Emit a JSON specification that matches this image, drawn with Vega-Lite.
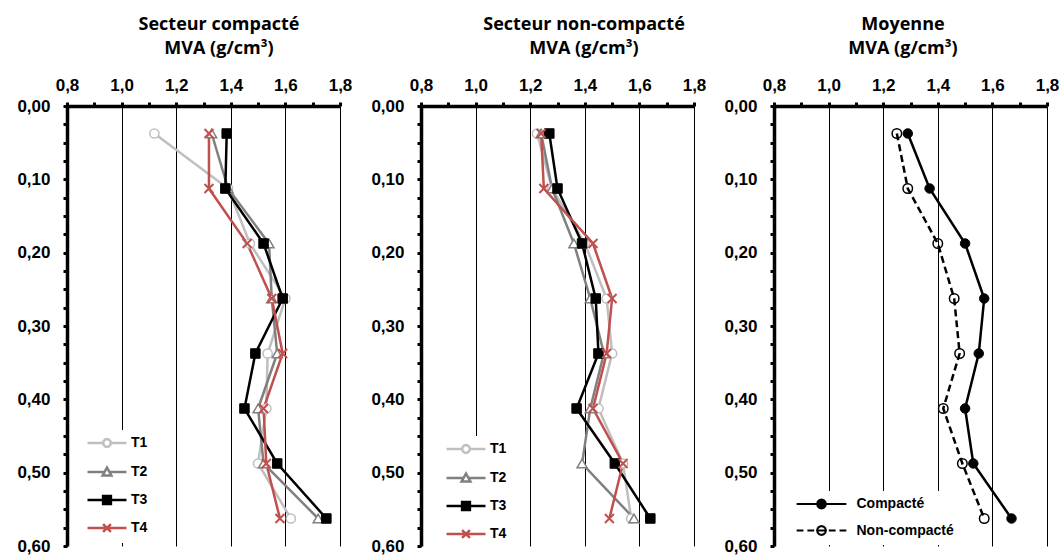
{
  "$schema": "https://vega.github.io/schema/vega-lite/v6.json",
  "padding": {"left": 16, "top": 15, "right": 5, "bottom": 5},
  "background": "white",
  "width": 980,
  "height": 440,
  "datasets": {
    "compact": [
      {"depth": 0.0375, "series": "T1", "mva": 1.12}, {"depth": 0.0375, "series": "T2", "mva": 1.33}, {"depth": 0.0375, "series": "T3", "mva": 1.385}, {"depth": 0.0375, "series": "T4", "mva": 1.32},
      {"depth": 0.1125, "series": "T1", "mva": 1.39}, {"depth": 0.1125, "series": "T2", "mva": 1.39}, {"depth": 0.1125, "series": "T3", "mva": 1.38}, {"depth": 0.1125, "series": "T4", "mva": 1.32},
      {"depth": 0.1875, "series": "T1", "mva": 1.47}, {"depth": 0.1875, "series": "T2", "mva": 1.54}, {"depth": 0.1875, "series": "T3", "mva": 1.52}, {"depth": 0.1875, "series": "T4", "mva": 1.46},
      {"depth": 0.2625, "series": "T1", "mva": 1.60}, {"depth": 0.2625, "series": "T2", "mva": 1.55}, {"depth": 0.2625, "series": "T3", "mva": 1.59}, {"depth": 0.2625, "series": "T4", "mva": 1.55},
      {"depth": 0.3375, "series": "T1", "mva": 1.535}, {"depth": 0.3375, "series": "T2", "mva": 1.57}, {"depth": 0.3375, "series": "T3", "mva": 1.49}, {"depth": 0.3375, "series": "T4", "mva": 1.59},
      {"depth": 0.4125, "series": "T1", "mva": 1.53}, {"depth": 0.4125, "series": "T2", "mva": 1.50}, {"depth": 0.4125, "series": "T3", "mva": 1.45}, {"depth": 0.4125, "series": "T4", "mva": 1.52},
      {"depth": 0.4875, "series": "T1", "mva": 1.50}, {"depth": 0.4875, "series": "T2", "mva": 1.52}, {"depth": 0.4875, "series": "T3", "mva": 1.57}, {"depth": 0.4875, "series": "T4", "mva": 1.53},
      {"depth": 0.5625, "series": "T1", "mva": 1.62}, {"depth": 0.5625, "series": "T2", "mva": 1.72}, {"depth": 0.5625, "series": "T3", "mva": 1.75}, {"depth": 0.5625, "series": "T4", "mva": 1.58}
    ],
    "noncompact": [
      {"depth": 0.0375, "series": "T1", "mva": 1.225}, {"depth": 0.0375, "series": "T2", "mva": 1.24}, {"depth": 0.0375, "series": "T3", "mva": 1.27}, {"depth": 0.0375, "series": "T4", "mva": 1.24},
      {"depth": 0.1125, "series": "T1", "mva": 1.28}, {"depth": 0.1125, "series": "T2", "mva": 1.28}, {"depth": 0.1125, "series": "T3", "mva": 1.30}, {"depth": 0.1125, "series": "T4", "mva": 1.25},
      {"depth": 0.1875, "series": "T1", "mva": 1.40}, {"depth": 0.1875, "series": "T2", "mva": 1.36}, {"depth": 0.1875, "series": "T3", "mva": 1.39}, {"depth": 0.1875, "series": "T4", "mva": 1.43},
      {"depth": 0.2625, "series": "T1", "mva": 1.48}, {"depth": 0.2625, "series": "T2", "mva": 1.42}, {"depth": 0.2625, "series": "T3", "mva": 1.44}, {"depth": 0.2625, "series": "T4", "mva": 1.50},
      {"depth": 0.3375, "series": "T1", "mva": 1.50}, {"depth": 0.3375, "series": "T2", "mva": 1.47}, {"depth": 0.3375, "series": "T3", "mva": 1.45}, {"depth": 0.3375, "series": "T4", "mva": 1.48},
      {"depth": 0.4125, "series": "T1", "mva": 1.45}, {"depth": 0.4125, "series": "T2", "mva": 1.42}, {"depth": 0.4125, "series": "T3", "mva": 1.37}, {"depth": 0.4125, "series": "T4", "mva": 1.43},
      {"depth": 0.4875, "series": "T1", "mva": 1.54}, {"depth": 0.4875, "series": "T2", "mva": 1.39}, {"depth": 0.4875, "series": "T3", "mva": 1.51}, {"depth": 0.4875, "series": "T4", "mva": 1.54},
      {"depth": 0.5625, "series": "T1", "mva": 1.57}, {"depth": 0.5625, "series": "T2", "mva": 1.58}, {"depth": 0.5625, "series": "T3", "mva": 1.64}, {"depth": 0.5625, "series": "T4", "mva": 1.49}
    ],
    "moyenne": [
      {"depth": 0.0375, "series": "Compacté", "mva": 1.29}, {"depth": 0.0375, "series": "Non-compacté", "mva": 1.25},
      {"depth": 0.1125, "series": "Compacté", "mva": 1.37}, {"depth": 0.1125, "series": "Non-compacté", "mva": 1.29},
      {"depth": 0.1875, "series": "Compacté", "mva": 1.50}, {"depth": 0.1875, "series": "Non-compacté", "mva": 1.40},
      {"depth": 0.2625, "series": "Compacté", "mva": 1.57}, {"depth": 0.2625, "series": "Non-compacté", "mva": 1.46},
      {"depth": 0.3375, "series": "Compacté", "mva": 1.55}, {"depth": 0.3375, "series": "Non-compacté", "mva": 1.48},
      {"depth": 0.4125, "series": "Compacté", "mva": 1.50}, {"depth": 0.4125, "series": "Non-compacté", "mva": 1.42},
      {"depth": 0.4875, "series": "Compacté", "mva": 1.53}, {"depth": 0.4875, "series": "Non-compacté", "mva": 1.49},
      {"depth": 0.5625, "series": "Compacté", "mva": 1.67}, {"depth": 0.5625, "series": "Non-compacté", "mva": 1.57}
    ]
  },
  "config": {
    "view": {"stroke": null},
    "font": "Liberation Sans",
    "axis": {"domainColor": "black", "domainWidth": 3.5, "tickColor": "black", "tickWidth": 3, "tickSize": 4, "labelFont": "Liberation Sans", "labelFontWeight": "bold", "labelFontSize": 17, "labelColor": "black", "labelOverlap": false, "labelFlush": false, "gridColor": "black", "gridWidth": 1,
             "titleFont": "Open Sans", "titleFontSize": 18, "titleFontWeight": "bold", "titleColor": "black", "titleLineHeight": 24, "titleBaseline": "alphabetic", "titleAlign": "center", "titleY": -77},
    "legend": {"labelFont": "Liberation Sans", "labelFontWeight": "bold", "labelFontSize": 14, "labelColor": "black"}
  },
  "resolve": {
    "scale": {"x": "independent", "y": "independent", "shape": "independent", "stroke": "independent", "fill": "independent"},
    "axis": {"x": "independent", "y": "independent"},
    "legend": {"shape": "independent", "stroke": "independent", "fill": "independent"}
  },
  "layer": [
    {
      "data": {"name": "compact"},
      "encoding": {
        "x": {"field": "mva", "type": "quantitative", "scale": {"domain": [0.8, 1.8], "range": [0, 273], "nice": false, "zero": false},
              "axis": {"orient": "top", "title": ["Secteur compacté", "MVA (g/cm³)"], "titleX": 151.5, "values": [0.8, 0.9, 1.0, 1.1, 1.2, 1.3, 1.4, 1.5, 1.6, 1.7, 1.8], "labelExpr": "round(datum.value*10) % 2 == 0 ? replace(format(datum.value, '.1f'), '.', ',') : ''", "grid": true, "gridOpacity": {"condition": {"test": "round(datum.value*10) % 2 == 0", "value": 1}, "value": 0}, "labelPadding": 8}},
        "y": {"field": "depth", "type": "quantitative", "title": null, "scale": {"domain": [0, 0.6], "reverse": true, "nice": false, "zero": false},
              "axis": {"orient": "left", "offset": 0, "values": [0, 0.025, 0.05, 0.075, 0.1, 0.125, 0.15, 0.175, 0.2, 0.225, 0.25, 0.275, 0.3, 0.325, 0.35, 0.375, 0.4, 0.425, 0.45, 0.475, 0.5, 0.525, 0.55, 0.575, 0.6], "labelExpr": "abs(datum.value*10 - round(datum.value*10)) < 0.001 ? replace(format(datum.value, '.2f'), '.', ',') : ''", "grid": false, "labelPadding": 13}}
      },
      "layer": [
        {"transform": [{"filter": "datum.series == 'T1'"}], "mark": {"type": "line", "strokeWidth": 2.5, "color": "#BFBFBF"}, "encoding": {"order": {"field": "depth", "type": "quantitative"}}},
        {"transform": [{"filter": "datum.series == 'T2'"}], "mark": {"type": "line", "strokeWidth": 2.5, "color": "#808080"}, "encoding": {"order": {"field": "depth", "type": "quantitative"}}},
        {"transform": [{"filter": "datum.series == 'T3'"}], "mark": {"type": "line", "strokeWidth": 2.5, "color": "#000000"}, "encoding": {"order": {"field": "depth", "type": "quantitative"}}},
        {"transform": [{"filter": "datum.series == 'T4'"}], "mark": {"type": "line", "strokeWidth": 2.5, "color": "#C0504D"}, "encoding": {"order": {"field": "depth", "type": "quantitative"}}},
        {"transform": [{"filter": "datum.series == 'T1'"}], "mark": {"type": "point", "shape": "circle", "filled": true, "fill": "white", "stroke": "#BFBFBF", "strokeWidth": 1.5, "size": 85, "opacity": 1}},
        {"transform": [{"filter": "datum.series == 'T2'"}], "mark": {"type": "point", "shape": "triangle-up", "filled": true, "fill": "white", "stroke": "#808080", "strokeWidth": 1.5, "size": 100, "opacity": 1}},
        {"transform": [{"filter": "datum.series == 'T3'"}], "mark": {"type": "point", "shape": "square", "filled": true, "fill": "black", "stroke": "black", "strokeWidth": 1, "size": 90, "opacity": 1}},
        {"transform": [{"filter": "datum.series == 'T4'"}], "mark": {"type": "point", "shape": "M-1,-1L1,1M-1,1L1,-1", "filled": false, "stroke": "#C0504D", "strokeWidth": 2, "size": 80, "opacity": 1}},
        {"transform": [{"filter": "false"}], "mark": {"type": "point", "filled": true, "strokeWidth": 2.5, "size": 95, "opacity": 1},
         "encoding": {
           "shape": {"field": "series", "type": "nominal", "scale": {"domain": ["T1", "T2", "T3", "T4"], "range": [
             "M-4,0H-0.8M0.8,0H4M0.8,0L0.69,0.4L0.4,0.69L0,0.8L-0.4,0.69L-0.69,0.4L-0.8,0L-0.69,-0.4L-0.4,-0.69L0,-0.8L0.4,-0.69L0.69,-0.4Z",
             "M-4,0H-0.5M0.5,0H4M0,-0.9L0.9,0.7L-0.9,0.7Z",
             "M-4,0H4M-0.8,-0.8H0.8V0.8H-0.8Z",
             "M-4,0H4M-0.8,-0.8L0.8,0.8M-0.8,0.8L0.8,-0.8"]},
             "legend": {"title": null, "orient": "none", "legendX": 12, "legendY": 324, "padding": 6, "fillColor": "white", "symbolSize": 95, "symbolStrokeWidth": 2.5, "symbolOffset": 15, "labelOffset": 17, "rowPadding": 10, "direction": "vertical"}},
           "stroke": {"field": "series", "type": "nominal", "scale": {"domain": ["T1", "T2", "T3", "T4"], "range": ["#BFBFBF", "#808080", "#000000", "#C0504D"]},
             "legend": {"title": null, "orient": "none", "legendX": 12, "legendY": 324, "padding": 6, "fillColor": "white", "symbolSize": 95, "symbolStrokeWidth": 2.5, "symbolOffset": 15, "labelOffset": 17, "rowPadding": 10, "direction": "vertical"}},
           "fill": {"field": "series", "type": "nominal", "scale": {"domain": ["T1", "T2", "T3", "T4"], "range": ["#FFFFFF", "#FFFFFF", "#000000", "#FFFFFF"]},
             "legend": {"title": null, "orient": "none", "legendX": 12, "legendY": 324, "padding": 6, "fillColor": "white", "symbolSize": 95, "symbolStrokeWidth": 2.5, "symbolOffset": 15, "labelOffset": 17, "rowPadding": 10, "direction": "vertical"}}
         }}
      ]
    },
    {
      "data": {"name": "noncompact"},
      "encoding": {
        "x": {"field": "mva", "type": "quantitative", "scale": {"domain": [0.8, 1.8], "range": [354, 627], "nice": false, "zero": false},
              "axis": {"orient": "top", "title": ["Secteur non-compacté", "MVA (g/cm³)"], "titleX": 516.5, "values": [0.8, 0.9, 1.0, 1.1, 1.2, 1.3, 1.4, 1.5, 1.6, 1.7, 1.8], "labelExpr": "round(datum.value*10) % 2 == 0 ? replace(format(datum.value, '.1f'), '.', ',') : ''", "grid": true, "gridOpacity": {"condition": {"test": "round(datum.value*10) % 2 == 0", "value": 1}, "value": 0}, "labelPadding": 8}},
        "y": {"field": "depth", "type": "quantitative", "title": null, "scale": {"domain": [0, 0.6], "reverse": true, "nice": false, "zero": false},
              "axis": {"orient": "left", "offset": -354, "values": [0, 0.025, 0.05, 0.075, 0.1, 0.125, 0.15, 0.175, 0.2, 0.225, 0.25, 0.275, 0.3, 0.325, 0.35, 0.375, 0.4, 0.425, 0.45, 0.475, 0.5, 0.525, 0.55, 0.575, 0.6], "labelExpr": "abs(datum.value*10 - round(datum.value*10)) < 0.001 ? replace(format(datum.value, '.2f'), '.', ',') : ''", "grid": false, "labelPadding": 13}}
      },
      "layer": [
        {"transform": [{"filter": "datum.series == 'T1'"}], "mark": {"type": "line", "strokeWidth": 2.5, "color": "#BFBFBF"}, "encoding": {"order": {"field": "depth", "type": "quantitative"}}},
        {"transform": [{"filter": "datum.series == 'T2'"}], "mark": {"type": "line", "strokeWidth": 2.5, "color": "#808080"}, "encoding": {"order": {"field": "depth", "type": "quantitative"}}},
        {"transform": [{"filter": "datum.series == 'T3'"}], "mark": {"type": "line", "strokeWidth": 2.5, "color": "#000000"}, "encoding": {"order": {"field": "depth", "type": "quantitative"}}},
        {"transform": [{"filter": "datum.series == 'T4'"}], "mark": {"type": "line", "strokeWidth": 2.5, "color": "#C0504D"}, "encoding": {"order": {"field": "depth", "type": "quantitative"}}},
        {"transform": [{"filter": "datum.series == 'T1'"}], "mark": {"type": "point", "shape": "circle", "filled": true, "fill": "white", "stroke": "#BFBFBF", "strokeWidth": 1.5, "size": 85, "opacity": 1}},
        {"transform": [{"filter": "datum.series == 'T2'"}], "mark": {"type": "point", "shape": "triangle-up", "filled": true, "fill": "white", "stroke": "#808080", "strokeWidth": 1.5, "size": 100, "opacity": 1}},
        {"transform": [{"filter": "datum.series == 'T3'"}], "mark": {"type": "point", "shape": "square", "filled": true, "fill": "black", "stroke": "black", "strokeWidth": 1, "size": 90, "opacity": 1}},
        {"transform": [{"filter": "datum.series == 'T4'"}], "mark": {"type": "point", "shape": "M-1,-1L1,1M-1,1L1,-1", "filled": false, "stroke": "#C0504D", "strokeWidth": 2, "size": 80, "opacity": 1}},
        {"transform": [{"filter": "false"}], "mark": {"type": "point", "filled": true, "strokeWidth": 2.5, "size": 95, "opacity": 1},
         "encoding": {
           "shape": {"field": "series", "type": "nominal", "scale": {"domain": ["T1", "T2", "T3", "T4"], "range": [
             "M-4,0H-0.8M0.8,0H4M0.8,0L0.69,0.4L0.4,0.69L0,0.8L-0.4,0.69L-0.69,0.4L-0.8,0L-0.69,-0.4L-0.4,-0.69L0,-0.8L0.4,-0.69L0.69,-0.4Z",
             "M-4,0H-0.5M0.5,0H4M0,-0.9L0.9,0.7L-0.9,0.7Z",
             "M-4,0H4M-0.8,-0.8H0.8V0.8H-0.8Z",
             "M-4,0H4M-0.8,-0.8L0.8,0.8M-0.8,0.8L0.8,-0.8"]},
             "legend": {"title": null, "orient": "none", "legendX": 371, "legendY": 330, "padding": 6, "fillColor": "white", "symbolSize": 95, "symbolStrokeWidth": 2.5, "symbolOffset": 15, "labelOffset": 17, "rowPadding": 10, "direction": "vertical"}},
           "stroke": {"field": "series", "type": "nominal", "scale": {"domain": ["T1", "T2", "T3", "T4"], "range": ["#BFBFBF", "#808080", "#000000", "#C0504D"]},
             "legend": {"title": null, "orient": "none", "legendX": 371, "legendY": 330, "padding": 6, "fillColor": "white", "symbolSize": 95, "symbolStrokeWidth": 2.5, "symbolOffset": 15, "labelOffset": 17, "rowPadding": 10, "direction": "vertical"}},
           "fill": {"field": "series", "type": "nominal", "scale": {"domain": ["T1", "T2", "T3", "T4"], "range": ["#FFFFFF", "#FFFFFF", "#000000", "#FFFFFF"]},
             "legend": {"title": null, "orient": "none", "legendX": 371, "legendY": 330, "padding": 6, "fillColor": "white", "symbolSize": 95, "symbolStrokeWidth": 2.5, "symbolOffset": 15, "labelOffset": 17, "rowPadding": 10, "direction": "vertical"}}
         }}
      ]
    },
    {
      "data": {"name": "moyenne"},
      "encoding": {
        "x": {"field": "mva", "type": "quantitative", "scale": {"domain": [0.8, 1.8], "range": [707, 980], "nice": false, "zero": false},
              "axis": {"orient": "top", "title": ["Moyenne", "MVA (g/cm³)"], "titleX": 835.5, "values": [0.8, 0.9, 1.0, 1.1, 1.2, 1.3, 1.4, 1.5, 1.6, 1.7, 1.8], "labelExpr": "round(datum.value*10) % 2 == 0 ? replace(format(datum.value, '.1f'), '.', ',') : ''", "grid": true, "gridOpacity": {"condition": {"test": "round(datum.value*10) % 2 == 0", "value": 1}, "value": 0}, "labelPadding": 8}},
        "y": {"field": "depth", "type": "quantitative", "title": null, "scale": {"domain": [0, 0.6], "reverse": true, "nice": false, "zero": false},
              "axis": {"orient": "left", "offset": -707, "values": [0, 0.025, 0.05, 0.075, 0.1, 0.125, 0.15, 0.175, 0.2, 0.225, 0.25, 0.275, 0.3, 0.325, 0.35, 0.375, 0.4, 0.425, 0.45, 0.475, 0.5, 0.525, 0.55, 0.575, 0.6], "labelExpr": "abs(datum.value*10 - round(datum.value*10)) < 0.001 ? replace(format(datum.value, '.2f'), '.', ',') : ''", "grid": false, "labelPadding": 13}}
      },
      "layer": [
        {"transform": [{"filter": "datum.series == 'Compacté'"}], "mark": {"type": "line", "strokeWidth": 2.5, "color": "black"}, "encoding": {"order": {"field": "depth", "type": "quantitative"}}},
        {"transform": [{"filter": "datum.series == 'Non-compacté'"}], "mark": {"type": "line", "strokeWidth": 2.5, "color": "black", "strokeDash": [7, 4]}, "encoding": {"order": {"field": "depth", "type": "quantitative"}}},
        {"transform": [{"filter": "datum.series == 'Compacté'"}], "mark": {"type": "point", "shape": "circle", "filled": true, "fill": "black", "stroke": "black", "strokeWidth": 1, "size": 90, "opacity": 1}},
        {"transform": [{"filter": "datum.series == 'Non-compacté'"}], "mark": {"type": "point", "shape": "circle", "filled": false, "stroke": "black", "strokeWidth": 1.5, "size": 90, "opacity": 1}},
        {"transform": [{"filter": "false"}], "mark": {"type": "point", "filled": true, "strokeWidth": 2, "size": 95, "opacity": 1},
         "encoding": {
           "shape": {"field": "series", "type": "nominal", "scale": {"domain": ["Compacté", "Non-compacté"], "range": [
             "M-5.1,0H5.1M0.9,0L0.78,0.45L0.45,0.78L0,0.9L-0.45,0.78L-0.78,0.45L-0.9,0L-0.78,-0.45L-0.45,-0.78L0,-0.9L0.45,-0.78L0.78,-0.45Z",
             "M-5.1,0H-3.7M-2.9,0H-1.5M-0.7,0H0.7M1.5,0H2.9M3.7,0H5.1M0.9,0L0.78,0.45L0.45,0.78L0,0.9L-0.45,0.78L-0.78,0.45L-0.9,0L-0.78,-0.45L-0.45,-0.78L0,-0.9L0.45,-0.78L0.78,-0.45Z"]},
             "legend": {"title": null, "orient": "none", "legendX": 721, "legendY": 385, "padding": 6, "fillColor": "white", "symbolSize": 95, "symbolStrokeWidth": 2, "symbolOffset": 20.5, "labelOffset": 28, "rowPadding": 8.5, "direction": "vertical"}},
           "stroke": {"field": "series", "type": "nominal", "scale": {"domain": ["Compacté", "Non-compacté"], "range": ["#000000", "#000000"]},
             "legend": {"title": null, "orient": "none", "legendX": 721, "legendY": 385, "padding": 6, "fillColor": "white", "symbolSize": 95, "symbolStrokeWidth": 2, "symbolOffset": 20.5, "labelOffset": 28, "rowPadding": 8.5, "direction": "vertical"}},
           "fill": {"field": "series", "type": "nominal", "scale": {"domain": ["Compacté", "Non-compacté"], "range": ["#000000", "transparent"]},
             "legend": {"title": null, "orient": "none", "legendX": 721, "legendY": 385, "padding": 6, "fillColor": "white", "symbolSize": 95, "symbolStrokeWidth": 2, "symbolOffset": 20.5, "labelOffset": 28, "rowPadding": 8.5, "direction": "vertical"}}
         }}
      ]
    }
  ]
}
